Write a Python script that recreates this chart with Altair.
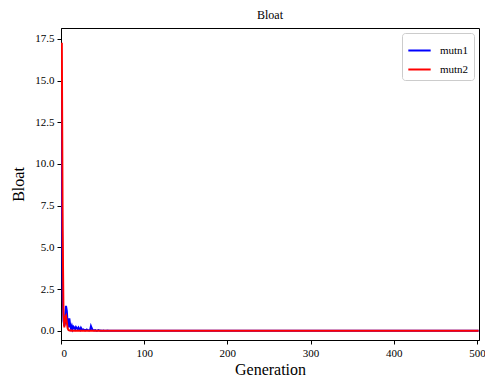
import altair as alt
import pandas as pd

# Early generations (0..59); afterwards both runs sit at ~0
mutn1_early = [17.2, 9.0, 2.2, 0.6, 0.3, 0.5, 1.5, 1.2, 0.4, 0.2,
               0.75, 0.35, 0.15, 0.3, 0.1, 0.25, 0.2, 0.1, 0.22, 0.15,
               0.1, 0.2, 0.12, 0.05, 0.18, 0.1, 0.05, 0.08, 0.05, 0.03,
               0.05, 0.08, 0.04, 0.03, 0.02, 0.05, 0.28, 0.15, 0.05, 0.03,
               0.02, 0.04, 0.02, 0.01, 0.02, 0.05, 0.03, 0.01, 0.02, 0.01,
               0.01, 0.02, 0.01, 0.0, 0.01, 0.0, 0.02, 0.0, 0.01, 0.0]
mutn2_early = [17.2, 17.2, 6.0, 1.0, 0.2, 0.8, 0.9, 0.5, 0.15, 0.05,
               0.02, 0.03, 0.01, 0.02, 0.01, 0.0, 0.01, 0.0, 0.01, 0.0]
n_gen = 503

gens = list(range(n_gen))
mutn1 = mutn1_early + [0.0] * (n_gen - len(mutn1_early))
mutn2 = mutn2_early + [0.0] * (n_gen - len(mutn2_early))

df = pd.DataFrame({
    "Generation": gens * 2,
    "Bloat": mutn1 + mutn2,
    "series": ["mutn1"] * n_gen + ["mutn2"] * n_gen,
})

font = "Liberation Serif"

chart = alt.Chart(df).mark_line(strokeWidth=2, clip=True).encode(
    x=alt.X("Generation:Q",
            scale=alt.Scale(domain=[0, 502.5], nice=False, zero=False),
            axis=alt.Axis(values=[0, 100, 200, 300, 400, 500], title="Generation",
                          grid=False, tickColor="black", domainColor="black",
                          labelFont=font, labelFontSize=11, labelColor="black",
                          titleFont=font, titleFontSize=16, titleFontWeight="normal",
                          titleColor="black", tickSize=4, labelPadding=3, titlePadding=3)),
    y=alt.Y("Bloat:Q",
            scale=alt.Scale(domain=[-0.55, 18.15], nice=False, zero=False),
            axis=alt.Axis(values=[0, 2.5, 5, 7.5, 10, 12.5, 15, 17.5], format=".1f",
                          title="Bloat", grid=False, tickColor="black", domainColor="black",
                          labelFont=font, labelFontSize=11, labelColor="black",
                          titleFont=font, titleFontSize=16, titleFontWeight="normal",
                          titleColor="black", tickSize=4, labelPadding=3, titlePadding=8)),
    color=alt.Color("series:N",
                    scale=alt.Scale(domain=["mutn1", "mutn2"], range=["#0000ff", "#ff0000"]),
                    legend=alt.Legend(title=None, orient="top-right", offset=5,
                                      symbolType="stroke", symbolStrokeWidth=2,
                                      symbolSize=500, labelFont=font, labelFontSize=11,
                                      labelColor="black", fillColor="white",
                                      strokeColor="#cccccc", cornerRadius=3, padding=5,
                                      rowPadding=1, labelOffset=8)),
).properties(
    width=418, height=312,
    title=alt.TitleParams("Bloat", font=font, fontSize=12, fontWeight="normal",
                          color="black", offset=6),
    autosize=alt.AutoSizeParams(type="none"),
    padding={"left": 53, "top": 20, "right": 6, "bottom": 36},
).configure_view(stroke="black", strokeWidth=1)

chart.save("out.html", embed_options={"renderer": "svg", "actions": False})
